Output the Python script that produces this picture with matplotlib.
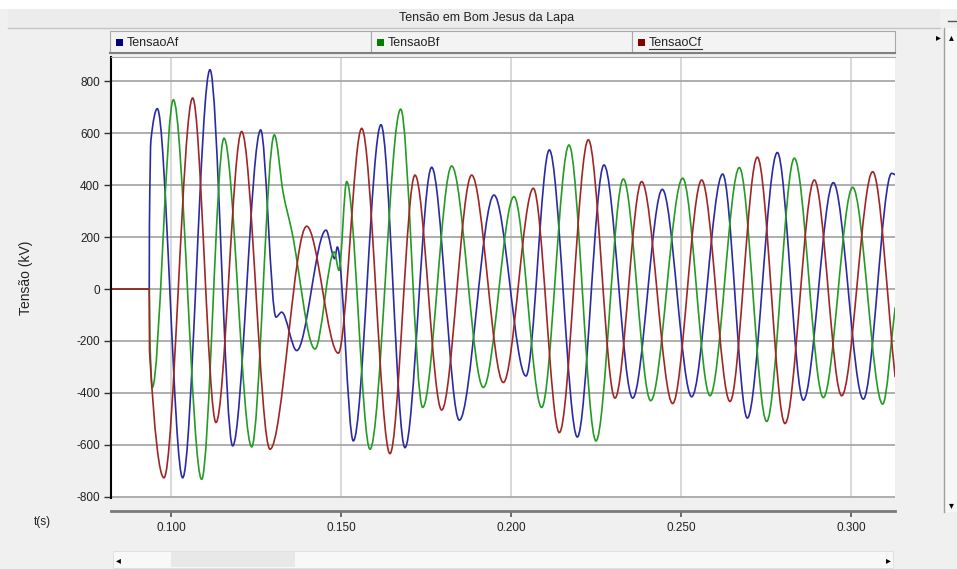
import numpy as np
import matplotlib.pyplot as plt
from matplotlib.path import Path
from matplotlib.patches import PathPatch, Rectangle
from matplotlib.lines import Line2D
from matplotlib.ticker import FormatStrFormatter, MultipleLocator

plt.rcParams['font.family'] = ['Liberation Sans', 'DejaVu Sans']
plt.rcParams['axes.unicode_minus'] = False

# peaks / troughs (time in s, voltage in kV)
t_a = [0.0800, 0.0936, 0.09365, 0.0941, 0.09597, 0.10343, 0.11147, 0.11814, 0.12638,
       0.13088, 0.13255, 0.13697, 0.14559, 0.14814, 0.14892, 0.15362, 0.16176, 0.16882,
       0.17667, 0.18480, 0.19500, 0.20440, 0.21127, 0.21951, 0.22735, 0.23579, 0.24451,
       0.25314, 0.26226, 0.26951, 0.27833, 0.28598, 0.29480, 0.30362, 0.31197, 0.3130]
v_a = [0, 0, 240, 575, 695, -727, 845, -604, 613,
       -108, -89, -237, 227, 117, 162, -585, 633, -611,
       469, -505, 362, -335, 536, -570, 478, -420, 384,
       -415, 443, -497, 526, -428, 410, -424, 446, 440]

t_b = [0.0800, 0.0936, 0.0938, 0.09451, 0.10069, 0.10902, 0.11559, 0.12373, 0.13039,
       0.1330, 0.1355, 0.14235, 0.14803, 0.14941, 0.15167, 0.15853, 0.16756, 0.17403,
       0.18256, 0.19186, 0.20088, 0.20902, 0.21706, 0.22500, 0.23304, 0.24108, 0.25049,
       0.25853, 0.26716, 0.27520, 0.28333, 0.29186, 0.30049, 0.30931, 0.3130]
v_b = [0, 0, -200, -379, 729, -733, 581, -608, 594,
       370, 225, -231, 143, 72, 414, -617, 693, -456,
       474, -379, 356, -456, 555, -585, 424, -430, 427,
       -411, 468, -510, 504, -418, 392, -443, -70]

t_c = [0.0800, 0.0936, 0.09368, 0.09794, 0.10637, 0.11324, 0.12078, 0.12912, 0.13990,
       0.14921, 0.15609, 0.16441, 0.17176, 0.17961, 0.18843, 0.19775, 0.20657, 0.21422,
       0.22275, 0.23059, 0.23843, 0.24755, 0.25608, 0.26441, 0.27245, 0.28059, 0.28921,
       0.29726, 0.30637, 0.3130]
v_c = [0, 0, -237, -727, 736, -514, 607, -617, 242,
       -247, 619, -634, 439, -466, 439, -360, 388, -553,
       575, -420, 414, -441, 420, -433, 508, -518, 420,
       -411, 452, -340]

names = ['TensaoAf', 'TensaoBf', 'TensaoCf']
colors = ['#2a2aa4', '#239c23', '#a02626']
key_colors = ['#000080', '#008000', '#800000']
y_ticks = [-800, -600, -400, -200, 0, 200, 400, 600, 800]


def wave_path(t, v):
    # smooth curve through the read points, flat at every peak and trough
    t = np.asarray(t, float)
    v = np.asarray(v, float)
    d = np.diff(v) / np.diff(t)
    m = np.zeros_like(v)
    m[0], m[-1] = d[0], d[-1]
    for i in range(1, len(v) - 1):
        if d[i - 1] * d[i] > 0:
            m[i] = 2 / (1 / d[i - 1] + 1 / d[i])
    verts = [(t[0], v[0])]
    codes = [Path.MOVETO]
    for i in range(len(t) - 1):
        h = t[i + 1] - t[i]
        verts += [(t[i] + h / 3, v[i] + m[i] * h / 3),
                  (t[i + 1] - h / 3, v[i + 1] - m[i + 1] * h / 3),
                  (t[i + 1], v[i + 1])]
        codes += [Path.CURVE4] * 3
    return Path(verts, codes)


W, H = 957, 569
fig = plt.figure(figsize=(W / 100, H / 100), dpi=100, facecolor='#f0f0f0')


def box(x0, y0, x1, y1, **kw):
    fig.patches.append(Rectangle((x0 / W, 1 - y1 / H), (x1 - x0) / W, (y1 - y0) / H,
                                 transform=fig.transFigure, **kw))


def line(xs, ys, **kw):
    fig.lines.append(Line2D([x / W for x in xs], [1 - y / H for y in ys],
                            transform=fig.transFigure, **kw))


# window chrome
box(0, 0, W, 9, facecolor='white', edgecolor='none')
box(8, 9, 940, 28, facecolor='#ececec', edgecolor='none')
line([8, 940], [28, 28], color='#c4c4c4', lw=1)
fig.text(487 / W, 1 - 18 / H, 'Tensão em Bom Jesus da Lapa', ha='center', va='center',
         fontsize=9, color='#222222')

# legend strip
edges = [110, 371, 632, 895]
for i in range(3):
    box(edges[i], 31, edges[i + 1], 53, facecolor='#f3f3f3', edgecolor='#a8a8a8', lw=0.8)
    box(edges[i] + 6, 39, edges[i] + 13, 46, facecolor=key_colors[i], edgecolor='none')
    txt = fig.text((edges[i] + 17) / W, 1 - 42.5 / H, names[i], ha='left', va='center',
                   fontsize=9, color='#222222')
    if i == 2:
        fig.canvas.draw()
        bb = txt.get_window_extent()
        line([bb.x0, bb.x1], [49, 49], color='#333333', lw=0.8)
line([110, 895], [53, 53], color='#808080', lw=1.5)

# right scrollbar
box(944, 28, W, 512, facecolor='#f7f7f7', edgecolor='none')
line([944, 944], [28, 512], color='#a0a0a0', lw=1)
fig.text(938 / W, 1 - 37 / H, '▸', ha='center', va='center', fontsize=7, color='black',
         family='DejaVu Sans')
fig.text(951 / W, 1 - 37 / H, '▴', ha='center', va='center', fontsize=7, color='black',
         family='DejaVu Sans')
fig.text(951 / W, 1 - 505 / H, '▾', ha='center', va='center', fontsize=7, color='black',
         family='DejaVu Sans')
line([948, 957], [21, 21], color='#555555', lw=1)

# bottom scrollbar
box(113, 551, 893, 568, facecolor='#f8f8f8', edgecolor='#dddddd', lw=0.6)
box(171, 552, 295, 567, facecolor='#e8e8e8', edgecolor='none')
fig.text(118 / W, 1 - 560 / H, '◂', ha='center', va='center', fontsize=7, color='black',
         family='DejaVu Sans')
fig.text(888 / W, 1 - 560 / H, '▸', ha='center', va='center', fontsize=7, color='black',
         family='DejaVu Sans')

# plot area
ax = fig.add_axes([111 / W, 1 - 498 / H, 784 / W, 441 / H])
ax.set_facecolor('white')
ax.set_xlim(0.082353, 0.312941)
ax.set_ylim(-805, 894)

for t, v, c in zip([t_a, t_b, t_c], [v_a, v_b, v_c], colors):
    ax.add_patch(PathPatch(wave_path(t, v), facecolor='none', edgecolor=c, lw=1.2))

ax.set_axisbelow(True)
ax.xaxis.set_major_locator(MultipleLocator(0.05))
ax.xaxis.set_major_formatter(FormatStrFormatter('%.3f'))
ax.set_yticks(y_ticks)
ax.grid(axis='y', color='#a8a8a8', lw=1.3)
ax.grid(axis='x', color='#d6d6d6', lw=1.3)

ax.spines['right'].set_visible(False)
ax.spines['top'].set_color('#a8a8a8')
ax.spines['left'].set_color('black')
ax.spines['left'].set_linewidth(1.5)
ax.spines['bottom'].set_position(('outward', 9.4))
ax.spines['bottom'].set_color('#7a7a7a')
ax.spines['bottom'].set_linewidth(2)
ax.tick_params(axis='x', direction='out', length=4, width=1.2, color='#555555',
               labelsize=8.5, labelcolor='#222222', pad=4)
ax.tick_params(axis='y', direction='out', length=5, width=1, color='#333333',
               labelsize=8.5, labelcolor='#222222', pad=3)

ax.set_ylabel('Tensão (kV)', fontsize=10, color='#222222')
ax.yaxis.set_label_coords(-0.1, 0.5)
fig.text(42 / W, 1 - 522 / H, 't(s)', ha='center', va='center', fontsize=8.5,
         color='#222222')

fig.savefig('out.png', dpi=100, facecolor=fig.get_facecolor())
